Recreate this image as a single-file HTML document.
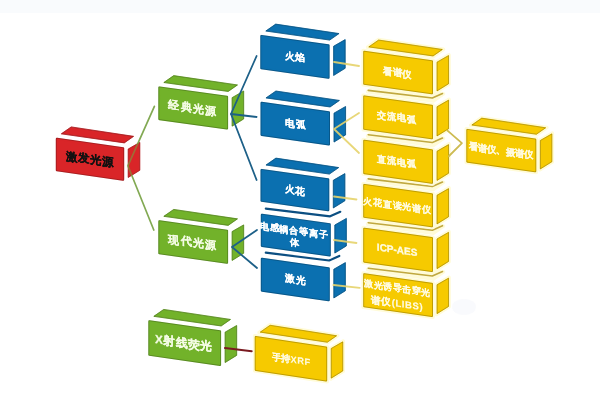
<!DOCTYPE html>
<html><head><meta charset="utf-8"><style>
html,body{margin:0;padding:0;background:#fff;width:600px;height:400px;overflow:hidden}
svg{display:block;filter:blur(0.45px)}
text{font-family:"Liberation Sans",sans-serif;font-weight:bold}
</style></head><body>
<svg width="600" height="400" viewBox="0 0 600 400">
<rect x="-5" y="-5" width="610" height="18" fill="#f9fbfd"/>
<ellipse cx="464" cy="307" rx="12" ry="8" fill="#eef1f8" opacity="0.35"/>
<polygon points="367.60,269.60 378.50,262.00 443.50,271.80 433.20,279.00" fill="#fffbd8" stroke="#fffbd8" stroke-width="3.6" stroke-linejoin="round"/>
<polygon points="436.60,284.50 449.00,277.40 449.00,306.70 436.60,314.40" fill="#fffbd8" stroke="#fffbd8" stroke-width="3.6" stroke-linejoin="round"/>
<polygon points="363.20,273.00 433.00,283.00 433.00,317.20 363.20,307.20" fill="#fffbd8" stroke="#fffbd8" stroke-width="3.6" stroke-linejoin="round"/>
<polygon points="437.00,284.73 448.60,278.09 448.60,306.48 437.00,313.68" fill="#f6ca00" stroke="#f6ca00" stroke-width="0.8" stroke-linejoin="round"/>
<polygon points="437.10,284.79 448.50,278.26 448.50,306.42 437.10,313.50" fill="none" stroke="#000" stroke-opacity="0.22" stroke-width="1" stroke-linejoin="round"/>
<polygon points="364.40,274.38 431.80,284.04 431.80,315.82 364.40,306.16" fill="#f6ca00" stroke="#f6ca00" stroke-width="2.4" stroke-linejoin="round"/>
<polygon points="363.70,273.58 432.50,283.43 432.50,316.62 363.70,306.77" fill="none" stroke="#000" stroke-opacity="0.22" stroke-width="1" stroke-linejoin="round"/>
<polyline points="368.20,268.20 432.30,276.00 442.50,271.50" fill="none" stroke="#c0a840" stroke-width="1.6" stroke-linejoin="round" stroke-linecap="round"/>
<text transform="translate(397.4,288.1) skewY(8.15)" fill="#fffbe0" stroke="#fffbe0" stroke-width="0.15" font-size="9" letter-spacing="0.6" text-anchor="middle" dominant-baseline="central">激光诱导击穿光</text>
<text transform="translate(396.9,303.1) skewY(8.15)" fill="#fffbe0" stroke="#fffbe0" stroke-width="0.15" font-size="9.5" letter-spacing="0.6" text-anchor="middle" dominant-baseline="central">谱仪(LIBS)</text>
<polygon points="367.60,224.10 378.50,216.50 443.50,226.00 433.20,233.20" fill="#fffbd8" stroke="#fffbd8" stroke-width="3.6" stroke-linejoin="round"/>
<polygon points="436.60,238.70 449.00,231.60 449.00,261.70 436.60,269.40" fill="#fffbd8" stroke="#fffbd8" stroke-width="3.6" stroke-linejoin="round"/>
<polygon points="363.20,227.50 433.00,237.20 433.00,272.20 363.20,262.50" fill="#fffbd8" stroke="#fffbd8" stroke-width="3.6" stroke-linejoin="round"/>
<polygon points="437.00,238.93 448.60,232.29 448.60,261.48 437.00,268.68" fill="#f6ca00" stroke="#f6ca00" stroke-width="0.8" stroke-linejoin="round"/>
<polygon points="437.10,238.99 448.50,232.46 448.50,261.42 437.10,268.50" fill="none" stroke="#000" stroke-opacity="0.22" stroke-width="1" stroke-linejoin="round"/>
<polygon points="364.40,228.88 431.80,238.24 431.80,270.82 364.40,261.46" fill="#f6ca00" stroke="#f6ca00" stroke-width="2.4" stroke-linejoin="round"/>
<polygon points="363.70,228.07 432.50,237.64 432.50,271.63 363.70,262.06" fill="none" stroke="#000" stroke-opacity="0.22" stroke-width="1" stroke-linejoin="round"/>
<polyline points="368.20,222.70 432.30,230.20 442.50,225.70" fill="none" stroke="#c0a840" stroke-width="1.6" stroke-linejoin="round" stroke-linecap="round"/>
<text transform="translate(397.1,249.8) skewY(7.91)" fill="#fffbe0" stroke="#fffbe0" stroke-width="0.3" font-size="10" letter-spacing="0" text-anchor="middle" dominant-baseline="central">ICP-AES</text>
<polygon points="367.60,180.30 378.50,172.70 443.50,182.30 433.20,189.50" fill="#fffbd8" stroke="#fffbd8" stroke-width="3.6" stroke-linejoin="round"/>
<polygon points="436.60,195.00 449.00,187.90 449.00,217.00 436.60,224.70" fill="#fffbd8" stroke="#fffbd8" stroke-width="3.6" stroke-linejoin="round"/>
<polygon points="363.20,183.70 433.00,193.50 433.00,227.50 363.20,217.70" fill="#fffbd8" stroke="#fffbd8" stroke-width="3.6" stroke-linejoin="round"/>
<polygon points="437.00,195.23 448.60,188.59 448.60,216.78 437.00,223.98" fill="#f6ca00" stroke="#f6ca00" stroke-width="0.8" stroke-linejoin="round"/>
<polygon points="437.10,195.29 448.50,188.76 448.50,216.72 437.10,223.80" fill="none" stroke="#000" stroke-opacity="0.22" stroke-width="1" stroke-linejoin="round"/>
<polygon points="364.40,185.08 431.80,194.54 431.80,226.12 364.40,216.66" fill="#f6ca00" stroke="#f6ca00" stroke-width="2.4" stroke-linejoin="round"/>
<polygon points="363.70,184.28 432.50,193.93 432.50,226.92 363.70,217.27" fill="none" stroke="#000" stroke-opacity="0.22" stroke-width="1" stroke-linejoin="round"/>
<polyline points="368.20,178.90 432.30,186.50 442.50,182.00" fill="none" stroke="#c0a840" stroke-width="1.6" stroke-linejoin="round" stroke-linecap="round"/>
<text transform="translate(397.5,205.6) skewY(7.99)" fill="#fffbe0" stroke="#fffbe0" stroke-width="0.15" font-size="9" letter-spacing="0.8" text-anchor="middle" dominant-baseline="central">火花直读光谱仪</text>
<polygon points="367.60,136.10 378.50,128.50 443.50,138.30 433.20,145.50" fill="#fffbd8" stroke="#fffbd8" stroke-width="3.6" stroke-linejoin="round"/>
<polygon points="436.60,151.00 449.00,143.90 449.00,173.50 436.60,181.20" fill="#fffbd8" stroke="#fffbd8" stroke-width="3.6" stroke-linejoin="round"/>
<polygon points="363.20,139.50 433.00,149.50 433.00,184.00 363.20,174.00" fill="#fffbd8" stroke="#fffbd8" stroke-width="3.6" stroke-linejoin="round"/>
<polygon points="437.00,151.23 448.60,144.59 448.60,173.28 437.00,180.48" fill="#f6ca00" stroke="#f6ca00" stroke-width="0.8" stroke-linejoin="round"/>
<polygon points="437.10,151.29 448.50,144.76 448.50,173.22 437.10,180.30" fill="none" stroke="#000" stroke-opacity="0.22" stroke-width="1" stroke-linejoin="round"/>
<polygon points="364.40,140.88 431.80,150.54 431.80,182.62 364.40,172.96" fill="#f6ca00" stroke="#f6ca00" stroke-width="2.4" stroke-linejoin="round"/>
<polygon points="363.70,140.08 432.50,149.93 432.50,183.42 363.70,173.57" fill="none" stroke="#000" stroke-opacity="0.22" stroke-width="1" stroke-linejoin="round"/>
<polyline points="368.20,134.70 432.30,142.50 442.50,138.00" fill="none" stroke="#c0a840" stroke-width="1.6" stroke-linejoin="round" stroke-linecap="round"/>
<text transform="translate(397.0,161.8) skewY(8.15)" fill="#fffbe0" stroke="#fffbe0" stroke-width="0.15" font-size="9.2" letter-spacing="0.9" text-anchor="middle" dominant-baseline="central">直流电弧</text>
<polygon points="367.60,91.80 378.50,84.20 443.50,93.80 433.20,101.00" fill="#fffbd8" stroke="#fffbd8" stroke-width="3.6" stroke-linejoin="round"/>
<polygon points="436.60,106.50 449.00,99.40 449.00,129.00 436.60,136.70" fill="#fffbd8" stroke="#fffbd8" stroke-width="3.6" stroke-linejoin="round"/>
<polygon points="363.20,95.20 433.00,105.00 433.00,139.50 363.20,129.70" fill="#fffbd8" stroke="#fffbd8" stroke-width="3.6" stroke-linejoin="round"/>
<polygon points="437.00,106.73 448.60,100.09 448.60,128.78 437.00,135.98" fill="#f6ca00" stroke="#f6ca00" stroke-width="0.8" stroke-linejoin="round"/>
<polygon points="437.10,106.79 448.50,100.26 448.50,128.72 437.10,135.80" fill="none" stroke="#000" stroke-opacity="0.22" stroke-width="1" stroke-linejoin="round"/>
<polygon points="364.40,96.58 431.80,106.04 431.80,138.12 364.40,128.66" fill="#f6ca00" stroke="#f6ca00" stroke-width="2.4" stroke-linejoin="round"/>
<polygon points="363.70,95.78 432.50,105.43 432.50,138.92 363.70,129.27" fill="none" stroke="#000" stroke-opacity="0.22" stroke-width="1" stroke-linejoin="round"/>
<polyline points="368.20,90.40 432.30,98.00 442.50,93.50" fill="none" stroke="#c0a840" stroke-width="1.6" stroke-linejoin="round" stroke-linecap="round"/>
<text transform="translate(397.0,117.4) skewY(7.99)" fill="#fffbe0" stroke="#fffbe0" stroke-width="0.15" font-size="9.2" letter-spacing="0.9" text-anchor="middle" dominant-baseline="central">交流电弧</text>
<polygon points="367.60,47.20 378.50,39.60 443.50,49.20 433.20,56.40" fill="#fffbd8" stroke="#fffbd8" stroke-width="3.6" stroke-linejoin="round"/>
<polygon points="436.60,61.90 449.00,54.80 449.00,84.00 436.60,91.70" fill="#fffbd8" stroke="#fffbd8" stroke-width="3.6" stroke-linejoin="round"/>
<polygon points="363.20,50.60 433.00,60.40 433.00,94.50 363.20,84.70" fill="#fffbd8" stroke="#fffbd8" stroke-width="3.6" stroke-linejoin="round"/>
<polygon points="368.66,46.95 378.60,40.02 442.45,49.45 433.10,55.98" fill="#f6ca00" stroke="#f6ca00" stroke-width="0.8" stroke-linejoin="round"/>
<polygon points="368.93,46.88 378.62,40.12 442.18,49.51 433.07,55.88" fill="none" stroke="#000" stroke-opacity="0.22" stroke-width="1" stroke-linejoin="round"/>
<polygon points="437.00,62.13 448.60,55.49 448.60,83.78 437.00,90.98" fill="#f6ca00" stroke="#f6ca00" stroke-width="0.8" stroke-linejoin="round"/>
<polygon points="437.10,62.19 448.50,55.66 448.50,83.72 437.10,90.80" fill="none" stroke="#000" stroke-opacity="0.22" stroke-width="1" stroke-linejoin="round"/>
<polygon points="364.40,51.98 431.80,61.44 431.80,93.12 364.40,83.66" fill="#f6ca00" stroke="#f6ca00" stroke-width="2.4" stroke-linejoin="round"/>
<polygon points="363.70,51.18 432.50,60.83 432.50,93.92 363.70,84.27" fill="none" stroke="#000" stroke-opacity="0.22" stroke-width="1" stroke-linejoin="round"/>
<text transform="translate(397.4,72.5) skewY(7.99)" fill="#fffbe0" stroke="#fffbe0" stroke-width="0.15" font-size="9.4" letter-spacing="0.6" text-anchor="middle" dominant-baseline="central">看谱仪</text>
<polygon points="470.70,125.30 481.60,117.70 546.80,127.50 536.50,134.70" fill="#fffbd8" stroke="#fffbd8" stroke-width="3.6" stroke-linejoin="round"/>
<polygon points="539.90,140.20 552.30,133.10 552.30,162.00 539.90,169.70" fill="#fffbd8" stroke="#fffbd8" stroke-width="3.6" stroke-linejoin="round"/>
<polygon points="466.30,128.70 536.30,138.70 536.30,172.50 466.30,162.50" fill="#fffbd8" stroke="#fffbd8" stroke-width="3.6" stroke-linejoin="round"/>
<polygon points="471.76,125.05 481.70,118.12 545.75,127.75 536.40,134.28" fill="#f6ca00" stroke="#f6ca00" stroke-width="0.8" stroke-linejoin="round"/>
<polygon points="472.03,124.98 481.72,118.22 545.49,127.81 536.38,134.18" fill="none" stroke="#000" stroke-opacity="0.22" stroke-width="1" stroke-linejoin="round"/>
<polygon points="540.30,140.43 551.90,133.79 551.90,161.78 540.30,168.98" fill="#f6ca00" stroke="#f6ca00" stroke-width="0.8" stroke-linejoin="round"/>
<polygon points="540.40,140.49 551.80,133.96 551.80,161.72 540.40,168.80" fill="none" stroke="#000" stroke-opacity="0.22" stroke-width="1" stroke-linejoin="round"/>
<polygon points="467.50,130.08 535.10,139.74 535.10,171.12 467.50,161.46" fill="#f6ca00" stroke="#f6ca00" stroke-width="2.4" stroke-linejoin="round"/>
<polygon points="466.80,129.28 535.80,139.13 535.80,171.92 466.80,162.07" fill="none" stroke="#000" stroke-opacity="0.22" stroke-width="1" stroke-linejoin="round"/>
<text transform="translate(500.9,151.1) skewY(8.13)" fill="#fffbe0" stroke="#fffbe0" stroke-width="0.15" font-size="9.3" letter-spacing="0.3" text-anchor="middle" dominant-baseline="central">看谱仪、摄谱仪</text>
<polygon points="259.10,332.40 270.00,324.80 337.70,335.50 327.40,342.70" fill="#fffbd8" stroke="#fffbd8" stroke-width="3.6" stroke-linejoin="round"/>
<polygon points="330.80,348.20 343.20,341.10 343.20,371.20 330.80,378.90" fill="#fffbd8" stroke="#fffbd8" stroke-width="3.6" stroke-linejoin="round"/>
<polygon points="254.70,335.80 327.20,346.70 327.20,381.70 254.70,370.80" fill="#fffbd8" stroke="#fffbd8" stroke-width="3.6" stroke-linejoin="round"/>
<polygon points="260.15,332.15 270.10,325.22 336.66,335.74 327.30,342.28" fill="#f6ca00" stroke="#f6ca00" stroke-width="0.8" stroke-linejoin="round"/>
<polygon points="260.42,332.09 270.12,325.33 336.40,335.80 327.28,342.18" fill="none" stroke="#000" stroke-opacity="0.22" stroke-width="1" stroke-linejoin="round"/>
<polygon points="331.20,348.43 342.80,341.79 342.80,370.98 331.20,378.18" fill="#f6ca00" stroke="#f6ca00" stroke-width="0.8" stroke-linejoin="round"/>
<polygon points="331.30,348.49 342.70,341.96 342.70,370.92 331.30,378.00" fill="none" stroke="#000" stroke-opacity="0.22" stroke-width="1" stroke-linejoin="round"/>
<polygon points="255.90,337.19 326.00,347.73 326.00,380.31 255.90,369.77" fill="#f6ca00" stroke="#f6ca00" stroke-width="2.4" stroke-linejoin="round"/>
<polygon points="255.20,336.38 326.70,347.13 326.70,381.12 255.20,370.37" fill="none" stroke="#000" stroke-opacity="0.22" stroke-width="1" stroke-linejoin="round"/>
<text transform="translate(291.2,359.2) skewY(8.55)" fill="#fffbe0" stroke="#fffbe0" stroke-width="0.05" font-size="9.4" letter-spacing="0.5" text-anchor="middle" dominant-baseline="central">手持XRF</text>
<polygon points="265.20,254.10 276.10,246.50 340.30,256.30 330.00,263.50" fill="#ffffff" stroke="#ffffff" stroke-width="3.6" stroke-linejoin="round"/>
<polygon points="333.40,269.00 345.80,261.90 345.80,291.00 333.40,298.70" fill="#ffffff" stroke="#ffffff" stroke-width="3.6" stroke-linejoin="round"/>
<polygon points="260.80,257.50 329.80,267.50 329.80,301.50 260.80,291.50" fill="#ffffff" stroke="#ffffff" stroke-width="3.6" stroke-linejoin="round"/>
<polygon points="333.80,269.23 345.40,262.59 345.40,290.78 333.80,297.98" fill="#0b70b0" stroke="#0b70b0" stroke-width="0.8" stroke-linejoin="round"/>
<polygon points="333.90,269.29 345.30,262.76 345.30,290.72 333.90,297.80" fill="none" stroke="#000" stroke-opacity="0.22" stroke-width="1" stroke-linejoin="round"/>
<polygon points="262.00,258.89 328.60,268.54 328.60,300.11 262.00,290.46" fill="#0b70b0" stroke="#0b70b0" stroke-width="2.4" stroke-linejoin="round"/>
<polygon points="261.30,258.08 329.30,267.93 329.30,300.92 261.30,291.07" fill="none" stroke="#000" stroke-opacity="0.22" stroke-width="1" stroke-linejoin="round"/>
<polyline points="265.80,252.70 329.10,260.50 339.30,256.00" fill="none" stroke="#0c4f82" stroke-width="2.2" stroke-linejoin="round" stroke-linecap="round"/>
<text transform="translate(295.6,279.5) skewY(8.25)" fill="#fff" stroke="#fff" stroke-width="0.15" font-size="9.8" letter-spacing="0.5" text-anchor="middle" dominant-baseline="central">激光</text>
<polygon points="265.20,210.10 276.10,202.50 341.30,212.10 331.00,219.30" fill="#ffffff" stroke="#ffffff" stroke-width="3.6" stroke-linejoin="round"/>
<polygon points="334.40,224.80 346.80,217.70 346.80,246.10 334.40,253.80" fill="#ffffff" stroke="#ffffff" stroke-width="3.6" stroke-linejoin="round"/>
<polygon points="260.80,213.50 330.80,223.30 330.80,256.60 260.80,246.80" fill="#ffffff" stroke="#ffffff" stroke-width="3.6" stroke-linejoin="round"/>
<polygon points="334.80,225.03 346.40,218.39 346.40,245.88 334.80,253.08" fill="#0b70b0" stroke="#0b70b0" stroke-width="0.8" stroke-linejoin="round"/>
<polygon points="334.90,225.09 346.30,218.56 346.30,245.82 334.90,252.90" fill="none" stroke="#000" stroke-opacity="0.22" stroke-width="1" stroke-linejoin="round"/>
<polygon points="262.00,214.88 329.60,224.34 329.60,255.22 262.00,245.76" fill="#0b70b0" stroke="#0b70b0" stroke-width="2.4" stroke-linejoin="round"/>
<polygon points="261.30,214.07 330.30,223.73 330.30,256.03 261.30,246.37" fill="none" stroke="#000" stroke-opacity="0.22" stroke-width="1" stroke-linejoin="round"/>
<polyline points="265.80,208.70 330.10,216.30 340.30,211.80" fill="none" stroke="#0c4f82" stroke-width="2.2" stroke-linejoin="round" stroke-linecap="round"/>
<text transform="translate(294.2,230.6) skewY(7.97)" fill="#fff" stroke="#fff" stroke-width="0.12" font-size="9.2" letter-spacing="0.9" text-anchor="middle" dominant-baseline="central">电感耦合等离子</text>
<text transform="translate(294.8,243.1) skewY(7.97)" fill="#fff" stroke="#fff" stroke-width="0.12" font-size="9.2" letter-spacing="0.9" text-anchor="middle" dominant-baseline="central">体</text>
<polygon points="264.90,165.30 275.80,157.70 339.80,167.30 329.50,174.50" fill="#ffffff" stroke="#ffffff" stroke-width="3.6" stroke-linejoin="round"/>
<polygon points="332.90,180.00 345.30,172.90 345.30,201.00 332.90,208.70" fill="#ffffff" stroke="#ffffff" stroke-width="3.6" stroke-linejoin="round"/>
<polygon points="260.50,168.70 329.30,178.50 329.30,211.50 260.50,201.70" fill="#ffffff" stroke="#ffffff" stroke-width="3.6" stroke-linejoin="round"/>
<polygon points="265.96,165.05 275.90,158.12 338.75,167.55 329.40,174.08" fill="#0b70b0" stroke="#0b70b0" stroke-width="0.8" stroke-linejoin="round"/>
<polygon points="266.23,164.98 275.92,158.22 338.49,167.61 329.38,173.98" fill="none" stroke="#000" stroke-opacity="0.22" stroke-width="1" stroke-linejoin="round"/>
<polygon points="333.30,180.23 344.90,173.59 344.90,200.78 333.30,207.98" fill="#0b70b0" stroke="#0b70b0" stroke-width="0.8" stroke-linejoin="round"/>
<polygon points="333.40,180.29 344.80,173.76 344.80,200.72 333.40,207.80" fill="none" stroke="#000" stroke-opacity="0.22" stroke-width="1" stroke-linejoin="round"/>
<polygon points="261.70,170.08 328.10,179.54 328.10,210.12 261.70,200.66" fill="#0b70b0" stroke="#0b70b0" stroke-width="2.4" stroke-linejoin="round"/>
<polygon points="261.00,169.28 328.80,178.93 328.80,210.92 261.00,201.27" fill="none" stroke="#000" stroke-opacity="0.22" stroke-width="1" stroke-linejoin="round"/>
<text transform="translate(295.1,190.1) skewY(8.11)" fill="#fff" stroke="#fff" stroke-width="0.15" font-size="9.8" letter-spacing="0.5" text-anchor="middle" dominant-baseline="central">火花</text>
<polygon points="264.90,98.20 275.80,90.60 340.50,100.20 330.20,107.40" fill="#ffffff" stroke="#ffffff" stroke-width="3.6" stroke-linejoin="round"/>
<polygon points="333.60,112.90 346.00,105.80 346.00,135.10 333.60,142.80" fill="#ffffff" stroke="#ffffff" stroke-width="3.6" stroke-linejoin="round"/>
<polygon points="260.50,101.60 330.00,111.40 330.00,145.60 260.50,135.80" fill="#ffffff" stroke="#ffffff" stroke-width="3.6" stroke-linejoin="round"/>
<polygon points="265.96,97.95 275.90,91.02 339.45,100.45 330.10,106.98" fill="#0b70b0" stroke="#0b70b0" stroke-width="0.8" stroke-linejoin="round"/>
<polygon points="266.23,97.88 275.92,91.12 339.18,100.51 330.07,106.88" fill="none" stroke="#000" stroke-opacity="0.22" stroke-width="1" stroke-linejoin="round"/>
<polygon points="334.00,113.13 345.60,106.49 345.60,134.88 334.00,142.08" fill="#0b70b0" stroke="#0b70b0" stroke-width="0.8" stroke-linejoin="round"/>
<polygon points="334.10,113.19 345.50,106.66 345.50,134.82 334.10,141.90" fill="none" stroke="#000" stroke-opacity="0.22" stroke-width="1" stroke-linejoin="round"/>
<polygon points="261.70,102.98 328.80,112.44 328.80,144.22 261.70,134.76" fill="#0b70b0" stroke="#0b70b0" stroke-width="2.4" stroke-linejoin="round"/>
<polygon points="261.00,102.18 329.50,111.83 329.50,145.02 261.00,135.37" fill="none" stroke="#000" stroke-opacity="0.22" stroke-width="1" stroke-linejoin="round"/>
<text transform="translate(295.5,123.6) skewY(8.03)" fill="#fff" stroke="#fff" stroke-width="0.15" font-size="9.8" letter-spacing="0.5" text-anchor="middle" dominant-baseline="central">电弧</text>
<polygon points="264.70,31.30 275.60,23.70 340.10,33.30 329.80,40.50" fill="#ffffff" stroke="#ffffff" stroke-width="3.6" stroke-linejoin="round"/>
<polygon points="333.20,46.00 345.60,38.90 345.60,68.50 333.20,76.20" fill="#ffffff" stroke="#ffffff" stroke-width="3.6" stroke-linejoin="round"/>
<polygon points="260.30,34.70 329.60,44.50 329.60,79.00 260.30,69.20" fill="#ffffff" stroke="#ffffff" stroke-width="3.6" stroke-linejoin="round"/>
<polygon points="265.76,31.05 275.70,24.12 339.05,33.55 329.70,40.08" fill="#0b70b0" stroke="#0b70b0" stroke-width="0.8" stroke-linejoin="round"/>
<polygon points="266.03,30.98 275.72,24.22 338.78,33.61 329.67,39.98" fill="none" stroke="#000" stroke-opacity="0.22" stroke-width="1" stroke-linejoin="round"/>
<polygon points="333.60,46.23 345.20,39.59 345.20,68.28 333.60,75.48" fill="#0b70b0" stroke="#0b70b0" stroke-width="0.8" stroke-linejoin="round"/>
<polygon points="333.70,46.29 345.10,39.76 345.10,68.22 333.70,75.30" fill="none" stroke="#000" stroke-opacity="0.22" stroke-width="1" stroke-linejoin="round"/>
<polygon points="261.50,36.08 328.40,45.54 328.40,77.62 261.50,68.16" fill="#0b70b0" stroke="#0b70b0" stroke-width="2.4" stroke-linejoin="round"/>
<polygon points="260.80,35.28 329.10,44.93 329.10,78.42 260.80,68.77" fill="none" stroke="#000" stroke-opacity="0.22" stroke-width="1" stroke-linejoin="round"/>
<text transform="translate(295.2,56.9) skewY(8.05)" fill="#fff" stroke="#fff" stroke-width="0.15" font-size="9.8" letter-spacing="0.5" text-anchor="middle" dominant-baseline="central">火焰</text>
<polygon points="152.70,316.60 163.60,309.00 231.60,319.20 221.30,326.40" fill="#ffffff" stroke="#ffffff" stroke-width="3.6" stroke-linejoin="round"/>
<polygon points="224.70,331.90 237.10,324.80 237.10,355.60 224.70,363.30" fill="#ffffff" stroke="#ffffff" stroke-width="3.6" stroke-linejoin="round"/>
<polygon points="148.30,320.00 221.10,330.40 221.10,366.10 148.30,355.70" fill="#ffffff" stroke="#ffffff" stroke-width="3.6" stroke-linejoin="round"/>
<polygon points="153.76,316.35 163.70,309.42 230.55,319.45 221.20,325.98" fill="#72b22a" stroke="#72b22a" stroke-width="0.8" stroke-linejoin="round"/>
<polygon points="154.03,316.28 163.72,309.52 230.29,319.51 221.18,325.88" fill="none" stroke="#000" stroke-opacity="0.22" stroke-width="1" stroke-linejoin="round"/>
<polygon points="225.10,332.13 236.70,325.49 236.70,355.38 225.10,362.58" fill="#72b22a" stroke="#72b22a" stroke-width="0.8" stroke-linejoin="round"/>
<polygon points="225.20,332.19 236.60,325.66 236.60,355.32 225.20,362.40" fill="none" stroke="#000" stroke-opacity="0.22" stroke-width="1" stroke-linejoin="round"/>
<polygon points="149.50,321.38 219.90,331.44 219.90,364.72 149.50,354.66" fill="#72b22a" stroke="#72b22a" stroke-width="2.4" stroke-linejoin="round"/>
<polygon points="148.80,320.58 220.60,330.83 220.60,365.52 148.80,355.27" fill="none" stroke="#000" stroke-opacity="0.22" stroke-width="1" stroke-linejoin="round"/>
<text transform="translate(183.9,343.1) skewY(8.13)" fill="#f4fce4" stroke="#f4fce4" stroke-width="0.2" font-size="11.8" letter-spacing="0.4" text-anchor="middle" dominant-baseline="central">X射线荧光</text>
<polygon points="162.70,216.60 173.60,209.00 238.60,218.60 228.30,225.80" fill="#ffffff" stroke="#ffffff" stroke-width="3.6" stroke-linejoin="round"/>
<polygon points="231.70,231.30 244.10,224.20 244.10,253.50 231.70,261.20" fill="#ffffff" stroke="#ffffff" stroke-width="3.6" stroke-linejoin="round"/>
<polygon points="158.30,220.00 228.10,229.80 228.10,264.00 158.30,254.20" fill="#ffffff" stroke="#ffffff" stroke-width="3.6" stroke-linejoin="round"/>
<polygon points="163.76,216.35 173.70,209.42 237.55,218.85 228.20,225.38" fill="#72b22a" stroke="#72b22a" stroke-width="0.8" stroke-linejoin="round"/>
<polygon points="164.03,216.28 173.72,209.52 237.28,218.91 228.17,225.28" fill="none" stroke="#000" stroke-opacity="0.22" stroke-width="1" stroke-linejoin="round"/>
<polygon points="232.10,231.53 243.70,224.89 243.70,253.28 232.10,260.48" fill="#72b22a" stroke="#72b22a" stroke-width="0.8" stroke-linejoin="round"/>
<polygon points="232.20,231.59 243.60,225.06 243.60,253.22 232.20,260.30" fill="none" stroke="#000" stroke-opacity="0.22" stroke-width="1" stroke-linejoin="round"/>
<polygon points="159.50,221.38 226.90,230.84 226.90,262.62 159.50,253.16" fill="#72b22a" stroke="#72b22a" stroke-width="2.4" stroke-linejoin="round"/>
<polygon points="158.80,220.58 227.60,230.23 227.60,263.42 158.80,253.77" fill="none" stroke="#000" stroke-opacity="0.22" stroke-width="1" stroke-linejoin="round"/>
<text transform="translate(192.9,242.0) skewY(7.99)" fill="#f4fce4" stroke="#f4fce4" stroke-width="0.15" font-size="11" letter-spacing="1.4" text-anchor="middle" dominant-baseline="central">现代光源</text>
<polygon points="162.70,82.80 173.60,75.20 238.60,84.70 228.30,91.90" fill="#ffffff" stroke="#ffffff" stroke-width="3.6" stroke-linejoin="round"/>
<polygon points="231.70,97.40 244.10,90.30 244.10,119.20 231.70,126.90" fill="#ffffff" stroke="#ffffff" stroke-width="3.6" stroke-linejoin="round"/>
<polygon points="158.30,86.20 228.10,95.90 228.10,129.70 158.30,120.00" fill="#ffffff" stroke="#ffffff" stroke-width="3.6" stroke-linejoin="round"/>
<polygon points="163.77,82.54 173.70,75.62 237.54,84.95 228.20,91.48" fill="#72b22a" stroke="#72b22a" stroke-width="0.8" stroke-linejoin="round"/>
<polygon points="164.03,82.48 173.72,75.72 237.28,85.01 228.17,91.38" fill="none" stroke="#000" stroke-opacity="0.22" stroke-width="1" stroke-linejoin="round"/>
<polygon points="232.10,97.63 243.70,90.99 243.70,118.98 232.10,126.18" fill="#72b22a" stroke="#72b22a" stroke-width="0.8" stroke-linejoin="round"/>
<polygon points="232.20,97.69 243.60,91.16 243.60,118.92 232.20,126.00" fill="none" stroke="#000" stroke-opacity="0.22" stroke-width="1" stroke-linejoin="round"/>
<polygon points="159.50,87.58 226.90,96.94 226.90,128.32 159.50,118.96" fill="#72b22a" stroke="#72b22a" stroke-width="2.4" stroke-linejoin="round"/>
<polygon points="158.80,86.77 227.60,96.34 227.60,129.13 158.80,119.56" fill="none" stroke="#000" stroke-opacity="0.22" stroke-width="1" stroke-linejoin="round"/>
<text transform="translate(192.9,107.9) skewY(7.91)" fill="#f4fce4" stroke="#f4fce4" stroke-width="0.15" font-size="11" letter-spacing="1.4" text-anchor="middle" dominant-baseline="central">经典光源</text>
<polygon points="60.20,134.10 71.10,126.50 134.70,136.10 124.40,143.30" fill="#ffffff" stroke="#ffffff" stroke-width="3.6" stroke-linejoin="round"/>
<polygon points="127.80,148.80 140.20,141.70 140.20,170.50 127.80,178.20" fill="#ffffff" stroke="#ffffff" stroke-width="3.6" stroke-linejoin="round"/>
<polygon points="55.80,137.50 124.20,147.30 124.20,181.00 55.80,171.20" fill="#ffffff" stroke="#ffffff" stroke-width="3.6" stroke-linejoin="round"/>
<polygon points="61.26,133.85 71.20,126.92 133.65,136.35 124.30,142.88" fill="#d92528" stroke="#d92528" stroke-width="0.8" stroke-linejoin="round"/>
<polygon points="61.53,133.78 71.22,127.02 133.39,136.41 124.28,142.78" fill="none" stroke="#000" stroke-opacity="0.22" stroke-width="1" stroke-linejoin="round"/>
<polygon points="128.20,149.03 139.80,142.39 139.80,170.28 128.20,177.48" fill="#d92528" stroke="#d92528" stroke-width="0.8" stroke-linejoin="round"/>
<polygon points="128.30,149.09 139.70,142.56 139.70,170.22 128.30,177.30" fill="none" stroke="#000" stroke-opacity="0.22" stroke-width="1" stroke-linejoin="round"/>
<polygon points="57.00,138.88 123.00,148.34 123.00,179.62 57.00,170.16" fill="#d92528" stroke="#d92528" stroke-width="2.4" stroke-linejoin="round"/>
<polygon points="56.30,138.08 123.70,147.73 123.70,180.42 56.30,170.77" fill="none" stroke="#000" stroke-opacity="0.22" stroke-width="1" stroke-linejoin="round"/>
<text transform="translate(90.2,159.2) skewY(8.15)" fill="#111" stroke="#111" stroke-width="0.25" font-size="11.5" letter-spacing="0.35" text-anchor="middle" dominant-baseline="central">激发光源</text>
<polyline points="154.40,106.30 127.90,165.80 153.80,230.00" fill="none" stroke="#74a040" stroke-width="1.7" stroke-opacity="0.9" stroke-linejoin="round" stroke-linecap="round"/>
<polyline points="256.60,56.00 231.00,114.00 256.60,117.00" fill="none" stroke="#1d6088" stroke-width="1.8" stroke-opacity="1" stroke-linejoin="round" stroke-linecap="round"/>
<polyline points="231.00,114.00 256.60,180.00" fill="none" stroke="#1d6088" stroke-width="1.8" stroke-opacity="1" stroke-linejoin="round" stroke-linecap="round"/>
<polyline points="257.00,230.00 232.00,247.00 257.00,268.00" fill="none" stroke="#1d6088" stroke-width="1.8" stroke-opacity="1" stroke-linejoin="round" stroke-linecap="round"/>
<polyline points="334.00,62.00 359.00,66.00" fill="none" stroke="#e6d36a" stroke-width="1.8" stroke-opacity="0.9" stroke-linejoin="round" stroke-linecap="round"/>
<polyline points="359.00,113.00 334.00,129.00 359.00,153.00" fill="none" stroke="#e6d36a" stroke-width="1.8" stroke-opacity="0.9" stroke-linejoin="round" stroke-linecap="round"/>
<polyline points="334.00,196.50 356.50,199.50" fill="none" stroke="#e6d36a" stroke-width="1.8" stroke-opacity="0.9" stroke-linejoin="round" stroke-linecap="round"/>
<polyline points="334.00,240.00 356.50,243.00" fill="none" stroke="#e6d36a" stroke-width="1.8" stroke-opacity="0.9" stroke-linejoin="round" stroke-linecap="round"/>
<polyline points="333.40,285.00 359.70,287.80" fill="none" stroke="#e6d36a" stroke-width="1.8" stroke-opacity="0.9" stroke-linejoin="round" stroke-linecap="round"/>
<polyline points="447.50,130.60 461.90,143.10 448.75,156.25" fill="none" stroke="#cdbb52" stroke-width="1.8" stroke-opacity="1" stroke-linejoin="round" stroke-linecap="round"/>
<polyline points="225.00,348.00 251.70,351.20" fill="none" stroke="#7a1a20" stroke-width="2" stroke-opacity="1" stroke-linejoin="round" stroke-linecap="round"/>
<polygon points="128.40,149.15 139.60,142.73 139.60,170.17 128.40,177.12" fill="#d92528" opacity="0.35"/>
</svg>
</body></html>
